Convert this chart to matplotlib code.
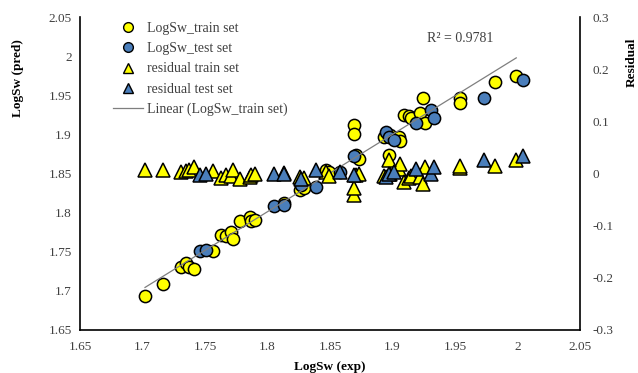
import numpy as np
import matplotlib
matplotlib.use("Agg")
import matplotlib.pyplot as plt
from matplotlib.lines import Line2D

# ---- data ----
train_exp = [1.702, 1.716, 1.731, 1.735, 1.737, 1.741, 1.756, 1.763, 1.767, 1.771,
             1.772, 1.778, 1.786, 1.787, 1.790, 1.813, 1.826, 1.829, 1.847, 1.849,
             1.869, 1.869, 1.871, 1.873, 1.893, 1.898, 1.905, 1.906, 1.897, 1.909,
             1.913, 1.915, 1.922, 1.926, 1.924, 1.954, 1.954, 1.982, 1.999]
train_pred = [1.693, 1.709, 1.731, 1.735, 1.731, 1.728, 1.751, 1.772, 1.770, 1.775,
              1.766, 1.789, 1.794, 1.789, 1.791, 1.812, 1.829, 1.831, 1.8545, 1.852,
              1.912, 1.901, 1.874, 1.869, 1.897, 1.899, 1.897, 1.891, 1.874, 1.925,
              1.923, 1.921, 1.927, 1.914, 1.947, 1.946, 1.9405, 1.967, 1.974]
train_resid = [0.007, 0.007, 0.003, 0.005, 0.006, 0.013, 0.004, -0.009, -0.003, -0.004,
               0.006, -0.011, -0.006, -0.002, 0.000, 0.001, -0.006, -0.009, 0.003, -0.005,
               -0.041, -0.028, -0.003, 0.000, -0.004, -0.001, 0.008, 0.018, 0.025, -0.016,
               -0.009, -0.005, -0.006, 0.013, -0.021, 0.010, 0.0135, 0.014, 0.026]

test_exp = [1.746, 1.751, 1.805, 1.813, 1.827, 1.839, 1.858, 1.869, 1.895, 1.897,
            1.901, 1.919, 1.931, 1.933, 1.973, 2.004]
test_pred = [1.751, 1.752, 1.808, 1.810, 1.835, 1.833, 1.852, 1.872, 1.903, 1.897,
             1.893, 1.914, 1.931, 1.921, 1.947, 1.970]
test_resid = [-0.003, 0.000, 0.000, 0.000, -0.011, 0.007, 0.0035, -0.003, -0.006, 0.000,
              0.0035, 0.008, 0.000, 0.013, 0.026, 0.0335]

r2_text = "R\u00b2 = 0.9781"

# ---- style ----
plt.rcParams['font.family'] = ['Liberation Serif', 'DejaVu Serif']
YELLOW = '#FFFF00'
BLUE = '#4A7EBB'
FS = 9.5

fig = plt.figure(figsize=(6.38, 3.73), dpi=100)
ax = fig.add_axes([0.1254, 0.1153, 0.7837, 0.8391])
ax2 = ax.twinx()

ms = 8.8
ax.plot(train_exp, train_pred, 'o', ms=ms, mfc=YELLOW, mec='black', mew=1.1, zorder=3)
ax.plot(test_exp, test_pred, 'o', ms=ms, mfc=BLUE, mec='black', mew=1.1, zorder=4)

# linear trendline of train set
coef = np.polyfit(train_exp, train_pred, 1)
xl = np.array([min(train_exp), max(train_exp)])
ax.plot(xl, np.polyval(coef, xl), '-', color='#7F7F7F', lw=0.9, zorder=5)

ax2.plot(train_exp, train_resid, '^', ms=ms + 0.6, mfc=YELLOW, mec='black', mew=1.1, zorder=3)
ax2.plot(test_exp, test_resid, '^', ms=ms + 0.6, mfc=BLUE, mec='black', mew=1.1, zorder=4)

ax.set_xlim(1.65, 2.05)
ax.set_ylim(1.65, 2.05)
ax2.set_ylim(-0.3, 0.3)
ax.set_xticks(np.arange(1.65, 2.051, 0.05))
ax.set_yticks(np.arange(1.65, 2.051, 0.05))
ax2.set_yticks(np.arange(-0.3, 0.301, 0.1))
ax.set_xticklabels(['1.65', '1.7', '1.75', '1.8', '1.85', '1.9', '1.95', '2', '2.05'])
ax.set_yticklabels(['1.65', '1.7', '1.75', '1.8', '1.85', '1.9', '1.95', '2', '2.05'])
ax2.set_yticklabels(['-0.3', '-0.2', '-0.1', '0', '0.1', '0.2', '0.3'])

for a in (ax, ax2):
    a.tick_params(length=0, labelsize=FS, colors='#404040', pad=6)
    for s in a.spines.values():
        s.set_visible(False)
ax.spines['left'].set_visible(True)
ax.spines['bottom'].set_visible(True)
ax2.spines['right'].set_visible(True)
for s in (ax.spines['left'], ax.spines['bottom'], ax2.spines['right']):
    s.set_color('black')
    s.set_linewidth(1.2)
ax.tick_params(axis='x', pad=8)
ax2.tick_params(axis='y', pad=9)

ax.set_xlabel('LogSw (exp)', fontsize=FS, fontweight='bold', labelpad=6)
fig.text(18 / 638, 1 - 78 / 373, 'LogSw (pred)', fontsize=FS, fontweight='bold',
         rotation=90, ha='center', va='center')
fig.text(632 / 638, 1 - 62 / 373, 'Residual', fontsize=FS, fontweight='bold',
         rotation=90, ha='center', va='center')

ax.text(1.954, 2.023, r2_text, fontsize=FS + 0.5, ha='center', va='center', color='#404040')

handles = [
    Line2D([], [], ls='', marker='o', ms=7, mfc=YELLOW, mec='black', mew=1.0),
    Line2D([], [], ls='', marker='o', ms=7, mfc=BLUE, mec='black', mew=1.0),
    Line2D([], [], ls='', marker='^', ms=7, mfc=YELLOW, mec='black', mew=1.0),
    Line2D([], [], ls='', marker='^', ms=7, mfc=BLUE, mec='black', mew=1.0),
    Line2D([], [], ls='-', color='#7F7F7F', lw=0.9),
]
labels = ['LogSw_train set', 'LogSw_test set', 'residual train set',
          'residual test set', 'Linear (LogSw_train set)']
leg = ax2.legend(handles, labels, loc='upper left', bbox_to_anchor=(0.046, 1.015),
                 frameon=False, fontsize=FS + 0.5, handlelength=2.2, handletextpad=0.3,
                 labelspacing=0.52, borderpad=0.2)
for t in leg.get_texts():
    t.set_color('#404040')

fig.savefig('out.png', dpi=100)
